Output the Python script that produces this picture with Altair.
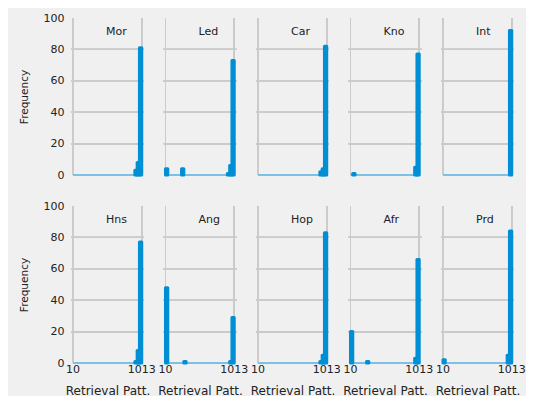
import altair as alt
import numpy as np
import pandas as pd

# ---- data ----
panels = ["Mor", "Led", "Car", "Kno", "Int", "Hns", "Ang", "Hop", "Afr", "Prd"]
bottom_row = ["Hns", "Ang", "Hop", "Afr", "Prd"]
x_min, x_max = 10, 1013
n_bins = 30
x_ticks = [10, 1013]
y_ticks = [0, 20, 40, 60, 80, 100]
y_grid = [20, 40, 60, 80]

Mor = [0, 0, 0, 0, 0, 0, 0, 0, 0, 0, 0, 0, 0, 0, 0, 0, 0, 0, 0, 0, 0, 0, 0, 0, 0, 0, 0, 3, 8, 81]
Led = [4, 0, 0, 0, 0, 0, 0, 4, 0, 0, 0, 0, 0, 0, 0, 0, 0, 0, 0, 0, 0, 0, 0, 0, 0, 0, 0, 1, 6, 73]
Car = [0, 0, 0, 0, 0, 0, 0, 0, 0, 0, 0, 0, 0, 0, 0, 0, 0, 0, 0, 0, 0, 0, 0, 0, 0, 0, 0, 2, 4, 82]
Kno = [0, 1, 0, 0, 0, 0, 0, 0, 0, 0, 0, 0, 0, 0, 0, 0, 0, 0, 0, 0, 0, 0, 0, 0, 0, 0, 0, 0, 5, 77]
Int = [0, 0, 0, 0, 0, 0, 0, 0, 0, 0, 0, 0, 0, 0, 0, 0, 0, 0, 0, 0, 0, 0, 0, 0, 0, 0, 0, 0, 0, 92]
Hns = [0, 0, 0, 0, 0, 0, 0, 0, 0, 0, 0, 0, 0, 0, 0, 0, 0, 0, 0, 0, 0, 0, 0, 0, 0, 0, 0, 1, 8, 77]
Ang = [48, 0, 0, 0, 0, 0, 0, 0, 1, 0, 0, 0, 0, 0, 0, 0, 0, 0, 0, 0, 0, 0, 0, 0, 0, 0, 0, 0, 1, 29]
Hop = [0, 0, 0, 0, 0, 0, 0, 0, 0, 0, 0, 0, 0, 0, 0, 0, 0, 0, 0, 0, 0, 0, 0, 0, 0, 0, 0, 1, 5, 83]
Afr = [20, 0, 0, 0, 0, 0, 0, 1, 0, 0, 0, 0, 0, 0, 0, 0, 0, 0, 0, 0, 0, 0, 0, 0, 0, 0, 0, 0, 3, 66]
Prd = [2, 0, 0, 0, 0, 0, 0, 0, 0, 0, 0, 0, 0, 0, 0, 0, 0, 0, 0, 0, 0, 0, 0, 0, 0, 0, 0, 0, 5, 84]

counts = {"Mor": Mor, "Led": Led, "Car": Car, "Kno": Kno, "Int": Int,
          "Hns": Hns, "Ang": Ang, "Hop": Hop, "Afr": Afr, "Prd": Prd}

edges = np.linspace(x_min, x_max, n_bins + 1)
rows = []
for p in panels:
    for i, c in enumerate(counts[p]):
        rows.append({"panel": p, "idx": i, "start": float(edges[i]),
                     "end": float(edges[i + 1]), "count": c})
df = pd.DataFrame(rows)

BLUE = "#008fd5"
LIGHT = "#7cc0e6"
GRID = "#cbcbcb"
FONT = "DejaVu Sans"
TXT = "#222222"
X_DOM = [-19, 1046]
W, H = 73, 157

xscale = alt.Scale(domain=X_DOM, nice=False, zero=False)
yscale = alt.Scale(domain=[0, 100], nice=False)
xaxis = alt.Axis(values=x_ticks, title="Retrieval Patt.", labels=False,
                 titlePadding=22, grid=False)
yaxis = alt.Axis(values=y_ticks, title="Frequency", labelPadding=7,
                 titlePadding=14, labelOverlap=False, grid=False)

base = alt.Chart()

layers = []
# horizontal grid lines
for v in y_grid:
    layers.append(base.mark_rule(color=GRID, strokeWidth=1).encode(
        x=alt.datum(X_DOM[0], scale=xscale, axis=xaxis), x2=alt.datum(X_DOM[1]),
        y=alt.datum(v, scale=yscale, axis=yaxis)))
# vertical grid lines
for v in x_ticks:
    layers.append(base.mark_rule(color=GRID, strokeWidth=1).encode(
        x=alt.datum(v, scale=xscale, axis=xaxis),
        y=alt.datum(0, scale=yscale, axis=yaxis), y2=alt.datum(100)))

baseline = base.mark_rule(color=LIGHT, strokeWidth=2).encode(
    x=alt.X("min(start):Q", scale=xscale, axis=xaxis),
    x2="max(end):Q",
    y=alt.datum(0, scale=yscale, axis=yaxis),
)
layers.append(baseline)

bars = base.mark_rect(color=BLUE, stroke=BLUE, strokeWidth=3, strokeJoin="round").encode(
    x=alt.X("start:Q", scale=xscale, axis=xaxis),
    x2="end:Q",
    y=alt.Y("count:Q", scale=yscale, axis=yaxis),
    y2=alt.datum(0),
).transform_filter("datum.count > 0")
layers.append(bars)

# panel names inside each panel
labels = base.mark_text(align="left", baseline="alphabetic", fontSize=11,
                        font=FONT, color=TXT).encode(
    x=alt.value(35),
    y=alt.value(17),
    text="panel:N",
).transform_filter("datum.idx == 0")
layers.append(labels)

# x tick labels under the bottom-row panels
ticklabels = base.mark_text(align="center", baseline="top", fontSize=11,
                            font=FONT, color=TXT).transform_filter(
    alt.FieldOneOfPredicate(field="panel", oneOf=bottom_row)
).transform_filter(
    f"datum.idx == 0 || datum.idx == {n_bins - 1}"
).transform_calculate(
    tick=f"datum.idx == 0 ? {x_ticks[0]} : {x_ticks[1]}"
).encode(
    x=alt.X("tick:Q", scale=xscale, axis=xaxis),
    y=alt.value(H + 1),
    text=alt.Text("tick:Q", format="d"),
)
layers.append(ticklabels)

layered = alt.layer(*layers, data=df).properties(width=W, height=H)

chart = layered.facet(
    facet=alt.Facet("panel:N", sort=panels, title=None,
                    header=alt.Header(labels=False, labelExpr="''", labelFontSize=0,
                                      labelPadding=0, title=None)),
    columns=5,
    spacing={"row": 31, "column": 19.5},
    bounds="flush",
).properties(
    background="#f0f0f0",
    padding={"left": 11, "top": 4, "right": 0, "bottom": 0},
).configure_header(
    labels=False,
).configure_view(
    strokeWidth=0,
).configure_axis(
    labelFont=FONT, titleFont=FONT, labelFontSize=11,
    labelColor=TXT, titleColor=TXT, titleFontWeight="normal",
    domain=False, ticks=False, grid=False,
).configure_axisX(
    titleFontSize=12,
).configure_axisY(
    titleFontSize=10.5,
)

chart.save("out.html", embed_options={"renderer": "svg", "actions": False})
